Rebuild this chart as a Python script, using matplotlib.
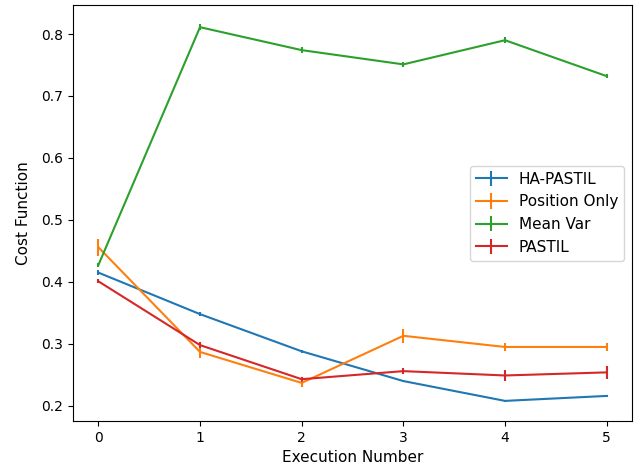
import numpy as np
import matplotlib.pyplot as plt

runs = [0, 1, 2, 3, 4, 5]

ha_pastil = [0.415, 0.348, 0.288, 0.240, 0.208, 0.216]
ha_pastil_err = [0.004, 0.003, 0.002, 0.002, 0.002, 0.002]

position_only = [0.456, 0.287, 0.237, 0.313, 0.295, 0.295]
position_only_err = [0.014, 0.010, 0.007, 0.011, 0.006, 0.006]

mean_var = [0.427, 0.811, 0.774, 0.751, 0.790, 0.732]
mean_var_err = [0.003, 0.005, 0.005, 0.004, 0.005, 0.003]

pastil = [0.401, 0.298, 0.243, 0.256, 0.249, 0.254]
pastil_err = [0.003, 0.005, 0.004, 0.005, 0.009, 0.011]

fig, ax = plt.subplots(figsize=(6.34, 4.72), dpi=100)
ax.errorbar(runs, ha_pastil, yerr=ha_pastil_err, label="HA-PASTIL")
ax.errorbar(runs, position_only, yerr=position_only_err, label="Position Only")
ax.errorbar(runs, mean_var, yerr=mean_var_err, label="Mean Var")
ax.errorbar(runs, pastil, yerr=pastil_err, label="PASTIL")
ax.set_xlabel("Execution Number", fontsize=11)
ax.set_ylabel("Cost Function", fontsize=11, labelpad=7)
ax.legend(loc="center right", fontsize=11)
fig.subplots_adjust(left=0.115, right=0.997, top=0.989, bottom=0.108)
fig.savefig("out.png")
